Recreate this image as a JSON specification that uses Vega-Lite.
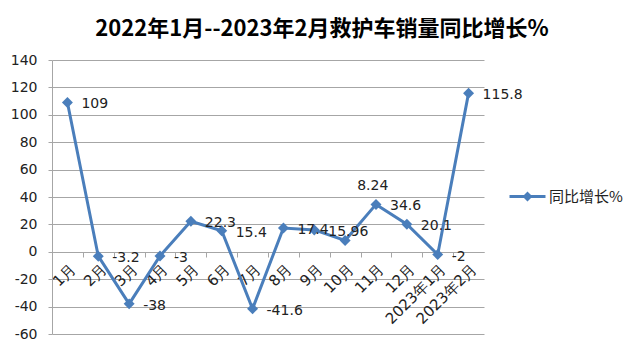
{
  "$schema": "https://vega.github.io/schema/vega-lite/v6.json",
  "width": 432,
  "height": 274,
  "autosize": {"type": "none"},
  "padding": {"left": 52, "top": 60, "right": 156, "bottom": 19},
  "background": "white",
  "config": {
    "view": {"stroke": null},
    "font": "DejaVu Sans"
  },
  "title": {
    "text": "2022年1月--2023年2月救护车销量同比增长%",
    "font": "Noto Sans CJK SC",
    "fontSize": 22,
    "fontWeight": "bold",
    "color": "#000000",
    "anchor": "middle",
    "frame": "group",
    "dx": 54,
    "offset": 12
  },
  "data": {
    "values": [
      {"month": "1月", "value": 109},
      {"month": "2月", "value": -3.2},
      {"month": "3月", "value": -38},
      {"month": "4月", "value": -3},
      {"month": "5月", "value": 22.3},
      {"month": "6月", "value": 15.4},
      {"month": "7月", "value": -41.6},
      {"month": "8月", "value": 17.4},
      {"month": "9月", "value": 15.96},
      {"month": "10月", "value": 8.24},
      {"month": "11月", "value": 34.6},
      {"month": "12月", "value": 20.1},
      {"month": "2023年1月", "value": -2},
      {"month": "2023年2月", "value": 115.8}
    ]
  },
  "encoding": {
    "y": {
      "field": "value", "type": "quantitative",
      "scale": {"domain": [-60, 140], "nice": false, "zero": false},
      "axis": {
        "title": null, "values": [-60, -40, -20, 0, 20, 40, 60, 80, 100, 120, 140],
        "tickCount": 11,
        "labelOverlap": false,
        "labelExpr": "replace(datum.label, '−', '-')",
        "labelFontSize": 14, "labelColor": "#222222", "labelPadding": 11,
        "grid": true, "gridColor": "#a6a6a6", "gridWidth": 1,
        "domainColor": "#a6a6a6", "tickColor": "#a6a6a6", "tickSize": 4
      }
    }
  },
  "resolve": {"axis": {"x": "independent"}},
  "layer": [
    {
      "mark": {"type": "line", "strokeWidth": 3, "color": "#4a7ebb"},
      "encoding": {
        "x": {
          "field": "month", "type": "nominal", "sort": null,
          "scale": {"type": "point", "padding": 0.5},
          "axis": {
            "title": null, "orient": "bottom", "offset": -82,
            "labelAngle": -45, "labelFontSize": 15, "labelColor": "#222222",
            "labelFont": "DejaVu Sans", "labelPadding": 9,
            "ticks": false, "domain": true, "domainColor": "#a6a6a6", "grid": false
          }
        },
        "color": {
          "datum": "同比增长%", "type": "nominal",
          "scale": {"range": ["#4a7ebb"]},
          "legend": {
            "title": null, "orient": "none", "legendX": 456, "legendY": 117,
            "symbolType": "M-1,0L1,0M-0.16,0L0,-0.16L0.16,0L0,0.16Z",
            "symbolSize": 1296, "symbolStrokeWidth": 3,
            "symbolFillColor": "#4a7ebb", "symbolStrokeColor": "#4a7ebb",
            "labelFontSize": 15, "labelFont": "Noto Sans CJK SC", "labelColor": "#222222",
            "labelOffset": 2
          }
        }
      }
    },
    {
      "mark": {"type": "point", "shape": "diamond", "filled": true, "size": 120, "color": "#4a7ebb", "opacity": 1},
      "encoding": {
        "x": {
          "field": "month", "type": "nominal", "sort": null,
          "axis": {
            "title": null, "orient": "bottom", "offset": -82,
            "labels": false, "domain": false, "grid": false,
            "ticks": true, "tickSize": 5, "tickColor": "#a6a6a6", "tickOffset": -15.43
          }
        }
      }
    },
    {
      "transform": [{"filter": "datum.month !== '10月'"}],
      "mark": {"type": "text", "align": "left", "baseline": "middle", "dx": 14, "dy": 2, "fontSize": 14, "color": "#222222", "font": "DejaVu Sans"},
      "encoding": {
        "x": {"field": "month", "type": "nominal", "sort": null, "axis": null},
        "text": {"field": "value", "type": "nominal"}
      }
    },
    {
      "transform": [{"filter": "datum.month === '10月'"}],
      "mark": {"type": "text", "align": "left", "baseline": "middle", "dx": 12, "dy": -55, "fontSize": 14, "color": "#222222", "font": "DejaVu Sans"},
      "encoding": {
        "x": {"field": "month", "type": "nominal", "sort": null, "axis": null},
        "text": {"field": "value", "type": "nominal"}
      }
    }
  ]
}
